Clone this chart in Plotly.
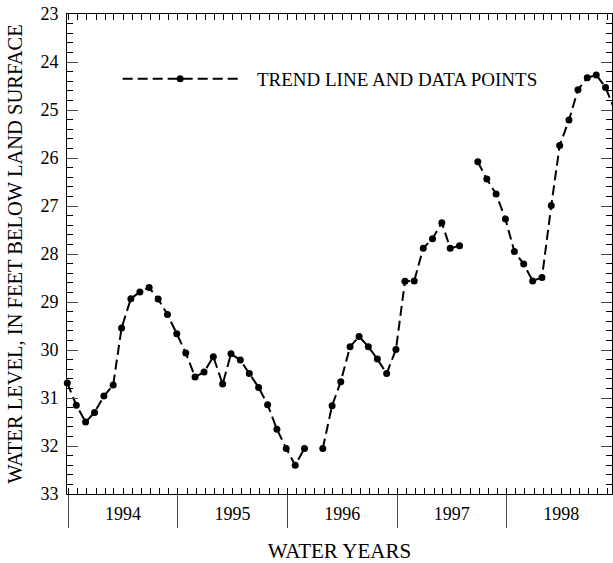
import plotly.graph_objects as go

# ---- data ----
dates = [
    "1993-09-27", "1993-10-27", "1993-11-27", "1993-12-27", "1994-01-27", "1994-02-27",
    "1994-03-27", "1994-04-27", "1994-05-27", "1994-06-27", "1994-07-27", "1994-08-27",
    "1994-09-27", "1994-10-27", "1994-11-27", "1994-12-27", "1995-01-27", "1995-02-27",
    "1995-03-27", "1995-04-27", "1995-05-27", "1995-06-27", "1995-07-27", "1995-08-27",
    "1995-09-27", "1995-10-27", "1995-11-27", "1995-12-27", "1996-01-27", "1996-02-27",
    "1996-03-27", "1996-04-27", "1996-05-27", "1996-06-27", "1996-07-27", "1996-08-27",
    "1996-09-27", "1996-10-27", "1996-11-27", "1996-12-27", "1997-01-27", "1997-02-27",
    "1997-03-27", "1997-04-27", "1997-05-27", "1997-06-27", "1997-07-27", "1997-08-27",
    "1997-09-27", "1997-10-27", "1997-11-27", "1997-12-27", "1998-01-27", "1998-02-27",
    "1998-03-27", "1998-04-27", "1998-05-27", "1998-06-27", "1998-07-27", "1998-08-27",
    "1998-09-22",
]
water_levels = [
    30.69, 31.15, 31.50, 31.30, 30.96, 30.73, 29.54, 28.93, 28.79, 28.70, 28.94, 29.26,
    29.66, 30.06, 30.56, 30.46, 30.14, 30.71, 30.08, 30.21, 30.49, 30.78, 31.14, 31.65,
    32.05, 32.40, 32.05, None, 32.05, 31.16, 30.66, 29.93, 29.72, 29.93, 30.19, 30.49,
    29.99, 28.57, 28.56, 27.88, 27.68, 27.35, 27.88, 27.83, None, 26.08, 26.44, 26.75,
    27.27, 27.95, 28.21, 28.56, 28.49, 26.99, 25.74, 25.21, 24.58, 24.33, 24.27, 24.53,
    24.93,
]
year_labels = ["1994", "1995", "1996", "1997", "1998"]
year_centers = ["1994-04-01", "1995-04-01", "1996-04-01", "1997-04-01", "1998-04-01"]
year_bounds = ["1993-10-01", "1994-10-01", "1995-10-01", "1996-10-01", "1997-10-01", "1998-10-01"]
series_name = "\u00a0\u00a0\u00a0TREND LINE AND DATA POINTS"

FONT = "Liberation Serif"
X_RANGE = ["1993-09-26", "1998-09-17 12:00"]

fig = go.Figure()
fig.add_trace(go.Scatter(
    x=dates, y=water_levels, mode="lines+markers", name=series_name,
    line=dict(color="black", width=2, dash="10px,5px"),
    marker=dict(color="black", size=7),
    connectgaps=False, cliponaxis=False,
))
# helper trace so the overlaid label/divider axis is rendered
fig.add_trace(go.Scatter(x=[year_centers[0]], y=[None], xaxis="x2", yaxis="y",
                         showlegend=False, hoverinfo="skip"))

fig.update_layout(
    width=613, height=563,
    margin=dict(l=67, r=1, t=14, b=69),
    paper_bgcolor="white", plot_bgcolor="white",
    font=dict(family=FONT, color="black", size=18),
    showlegend=True,
    legend=dict(x=0.093, y=0.865, xanchor="left", yanchor="middle",
                bgcolor="rgba(0,0,0,0)", font=dict(size=19, family=FONT),
                itemwidth=115),
    xaxis=dict(
        type="date", range=X_RANGE, showgrid=False, zeroline=False, automargin=False,
        showline=True, linecolor="black", linewidth=1, mirror="ticks",
        ticks="inside", ticklen=6, tickwidth=1, tickcolor="black",
        tickmode="linear", tick0="1993-10-01", dtick="M1",
        showticklabels=False,
    ),
    xaxis2=dict(
        type="date", range=X_RANGE, overlaying="x", side="bottom", anchor="y",
        showgrid=False, zeroline=False, showline=False, automargin=False,
        tickmode="array", tickvals=year_centers, ticktext=year_labels,
        ticks="outside", ticklen=3, tickcolor="rgba(0,0,0,0)",
        ticklabeloverflow="allow",
        tickfont=dict(size=18, family=FONT),
        minor=dict(tickmode="array", tickvals=year_bounds, ticks="outside",
                   ticklen=33, tickwidth=1, tickcolor="#444", showgrid=False),
        title=dict(text="WATER YEARS", font=dict(size=21, family=FONT), standoff=33),
    ),
    yaxis=dict(
        range=[33, 23], showgrid=False, zeroline=False, automargin=False,
        showline=True, linecolor="black", linewidth=1, mirror="ticks",
        tickmode="linear", tick0=23, dtick=1,
        ticks="inside", ticklen=11, tickwidth=1, tickcolor="#444",
        ticklabelstandoff=4, ticklabeloverflow="allow",
        tickfont=dict(size=18, family=FONT),
        minor=dict(tick0=23, dtick=0.2, ticks="inside", ticklen=6,
                   tickwidth=1, tickcolor="black", showgrid=False),
        title=dict(text="WATER LEVEL, IN FEET BELOW LAND SURFACE",
                   font=dict(size=20.5, family=FONT), standoff=12),
    ),
)

# remove the default 8px page margin so the figure fills the window exactly
fig.write_html("out.html", config={"displayModeBar": False},
               post_script="document.body.style.margin='0px';")
